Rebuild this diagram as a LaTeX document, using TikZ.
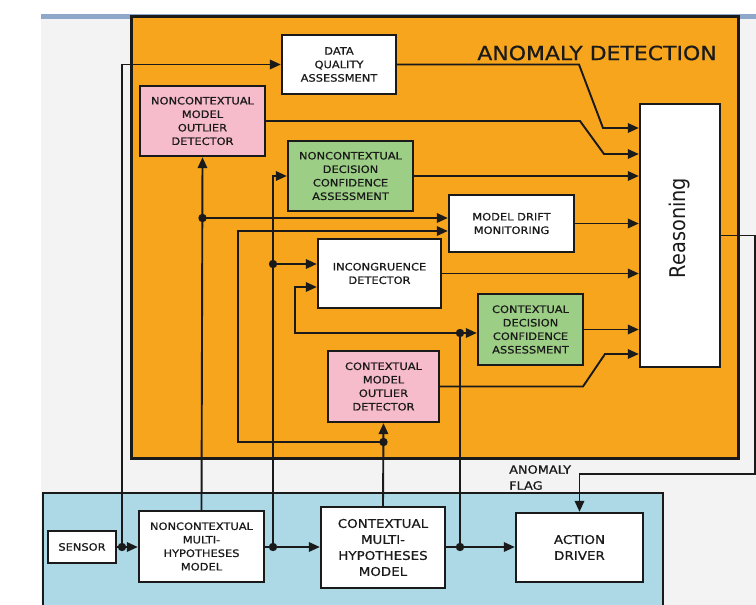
\documentclass[tikz,border=0pt]{standalone}
\usepackage{fontspec}
\setmainfont{DejaVu Sans}[FakeStretch=1.12,FakeBold=0.6]
\newfontfamily\plainfont{DejaVu Sans}
\usetikzlibrary{arrows.meta,calc}
\definecolor{orangebg}{HTML}{F7A51C}
\definecolor{pinkbox}{HTML}{F7BCCB}
\definecolor{greenbox}{HTML}{9CCF85}
\definecolor{bluebg}{HTML}{ADD8E6}
\definecolor{graybg}{HTML}{F3F3F3}
\definecolor{stripe}{HTML}{8FA7C8}
\definecolor{ink}{HTML}{1A1A1A}
\begin{document}
\begin{tikzpicture}[x=1pt,y=-1pt,
  box/.style={draw=ink,line width=2.4pt,align=center,inner sep=0pt,text=ink,fill=white,
    font=\fontsize{10.2}{13.5}\selectfont},
  bigbox/.style={box,font=\fontsize{12}{16}\selectfont},
  conn/.style={draw=ink,line width=1.9pt},
  arr/.style={conn,-{Triangle[length=11pt,width=9.5pt]}},
  dotm/.style={fill=ink},
]
\useasboundingbox (0,0) rectangle (756,605);
% backgrounds
\fill[graybg] (41,14) rectangle (756,605);
\fill[stripe] (41,14) rectangle (756,19);
\draw[line width=3pt,draw=ink,fill=orangebg] (131,16) rectangle (738,458);
\draw[line width=2.4pt,draw=ink,fill=bluebg] (43,493) rectangle (663,620);

% title and labels
\node[text=ink,font=\fontsize{19.6}{22}\selectfont] (title) at (597,53) {ANOMALY DETECTION};
\node[anchor=north west,align=left,inner sep=0pt,text=ink,font=\fontsize{11.5}{16}\selectfont] (flag) at (509,465) {ANOMALY\\FLAG};

% anomaly detection boxes
\node[box,minimum width=114pt,minimum height=59pt] (dqa) at (339,64.5) {DATA\\QUALITY\\ASSESSMENT};
\node[box,fill=pinkbox,minimum width=125pt,minimum height=70pt] (ncmod) at (202.5,121) {NONCONTEXTUAL\\MODEL\\OUTLIER\\DETECTOR};
\node[box,fill=greenbox,minimum width=125pt,minimum height=70pt] (ncdec) at (350.5,176) {NONCONTEXTUAL\\DECISION\\CONFIDENCE\\ASSESSMENT};
\node[box,minimum width=125pt,minimum height=57pt] (drift) at (511.5,223.5) {MODEL DRIFT\\MONITORING};
\node[box,minimum width=123pt,minimum height=69pt] (incong) at (379.5,273.5) {INCONGRUENCE\\DETECTOR};
\node[box,fill=greenbox,minimum width=105pt,minimum height=71pt] (cdec) at (530.5,329.5) {CONTEXTUAL\\DECISION\\CONFIDENCE\\ASSESSMENT};
\node[box,fill=pinkbox,minimum width=111pt,minimum height=71pt] (cmod) at (383.5,386.5) {CONTEXTUAL\\MODEL\\OUTLIER\\DETECTOR};
\node[box,minimum width=80pt,minimum height=263pt] (reason) at (680,235.5) {};
\node[rotate=90,text=ink,inner sep=0pt] (rtext) at (680,228) {\plainfont\fontsize{19.3}{22}\selectfont\scalebox{1}[1.12]{Reasoning}};

% lower boxes
\node[box,minimum width=68pt,minimum height=32pt] (sensor) at (82,547) {SENSOR};
\node[box,minimum width=125pt,minimum height=71pt] (ncmh) at (201.5,546.5) {NONCONTEXTUAL\\MULTI-\\HYPOTHESES\\MODEL};
\node[bigbox,minimum width=124pt,minimum height=81pt] (cmh) at (383,547.5) {CONTEXTUAL\\MULTI-\\HYPOTHESES\\MODEL};
\node[bigbox,minimum width=127pt,minimum height=69pt] (action) at (579.5,547.5) {ACTION\\DRIVER};

% junction points
\coordinate (d1) at (122,547);
\coordinate (d2) at (202.5,218);
\coordinate (d3) at (273,547);
\coordinate (d4) at (273,264);
\coordinate (d5) at (383.5,442);
\coordinate (d6) at (460,547);
\coordinate (d7) at (460,333);
\coordinate (c1) at (238,231);
\coordinate (c2) at (295,287);

% connectors from sensor and models
\draw[arr] (sensor.east |- d1) -- (ncmh.west |- d1);
\draw[arr] (d1) |- (dqa.west);
\draw[arr] (ncmh.north) -- (ncmod.south);
\draw[arr] (d2) -- (d2 -| drift.west);
\draw[arr] (ncmh.east |- d3) -- (cmh.west |- d3);
\draw[arr] (d3) |- (ncdec.west);
\draw[arr] (d4) -- (d4 -| incong.west);
\draw[arr] (cmh.north) -- (cmod.south);
\draw[arr] (d5) -| (c1) -- (c1 -| drift.west);
\draw[arr] (cmh.east |- d6) -- (action.west |- d6);
\draw[conn] (d6) -- (d7);
\draw[arr] (d7) -- (d7 -| cdec.west);
\draw[arr] (d7) -| (c2) -- (c2 -| incong.west);

% inputs to reasoning
\draw[arr] (dqa.east) -- (579,64.5) -- (603,128) -- (reason.west |- 0,128);
\draw[arr] (ncmod.east) -- (580,121) -- (604,154) -- (reason.west |- 0,154);
\draw[arr] (ncdec.east) -- (reason.west |- ncdec.east);
\draw[arr] (drift.east) -- (reason.west |- drift.east);
\draw[arr] (incong.east) -- (reason.west |- incong.east);
\draw[arr] (cdec.east) -- (reason.west |- cdec.east);
\draw[arr] (cmod.east) -- (583,386.5) -- (605,354) -- (reason.west |- 0,354);

% anomaly flag output
\draw[arr] (reason.east) -- (755,235.5) |- (action.north |- 0,474) -- (action.north);

% junction dots
\foreach \p in {d1,d2,d3,d4,d5,d6,d7} \fill[dotm] (\p) circle (4.2pt);
\end{tikzpicture}
\end{document}
